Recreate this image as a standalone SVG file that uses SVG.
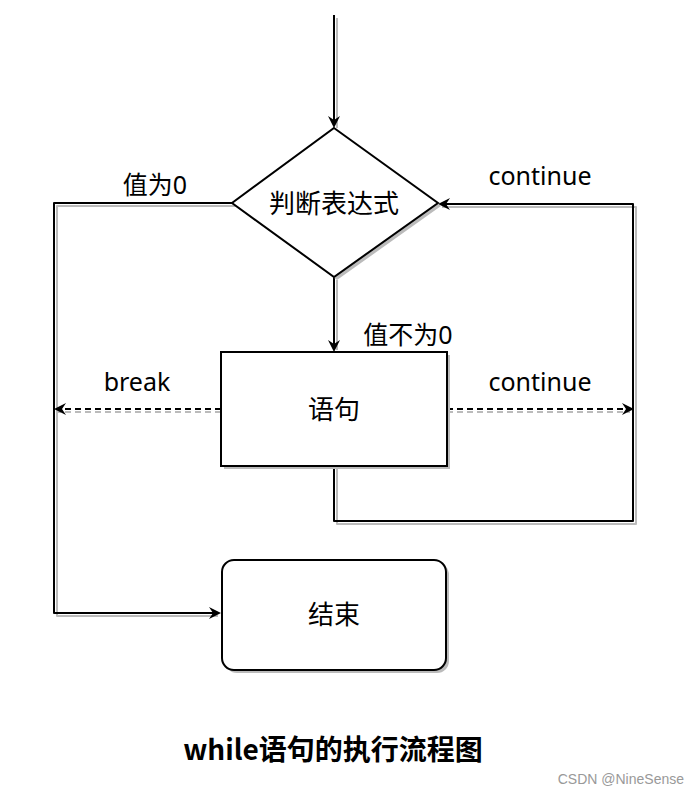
<svg xmlns="http://www.w3.org/2000/svg" width="700" height="794" viewBox="0 0 700 794">
<style>
.ln{fill:none;stroke:#000;stroke-width:2;stroke-linejoin:round}
.sh{fill:none;stroke:#bbb;stroke-width:2;stroke-linejoin:round}
.dash{stroke-dasharray:6 4}
.box{fill:#fff;stroke:#000;stroke-width:2}
.boxsh{fill:#bbb;stroke:none}
.t{font-family:"Noto Sans","Noto Sans CJK SC",sans-serif;font-size:25px;fill:#000}
.c{text-anchor:middle}
</style>
<defs>
<marker id="arr" viewBox="0 0 12 12" refX="10" refY="6" markerWidth="12" markerHeight="12" markerUnits="userSpaceOnUse" orient="auto">
<path d="M0,0 L12,6 L0,12 L4,6 Z" fill="#000"/>
</marker>
</defs>
<g id="connectors">
<path class="sh" d="M337,18 L337,128"/>
<path class="sh" d="M235,206 L57,206 L57,616 L218,616"/>
<path class="sh" d="M337,280 L337,350"/>
<path class="sh dash" d="M221,412 L58,412"/>
<path class="sh dash" d="M447,412 L630,412"/>
<path class="sh" d="M337,469 L337,524 L636,524 L636,207 L442,207"/>
<path class="ln" d="M334,15 L334,126" marker-end="url(#arr)"/>
<path class="ln" d="M232,203 L54,203 L54,613 L219,613" marker-end="url(#arr)"/>
<path class="ln" d="M334,277 L334,350" marker-end="url(#arr)"/>
<path class="ln dash" d="M221,409 L56,409" marker-end="url(#arr)"/>
<path class="ln dash" d="M447,409 L632,409" marker-end="url(#arr)"/>
<path class="ln" d="M334,466 L334,521 L633,521 L633,204 L440,204" marker-end="url(#arr)"/>
<text class="t c" x="155" y="194">值为0</text>
<text class="t c" x="408" y="344">值不为0</text>
<text class="t c" x="137" y="391">break</text>
<text class="t c" x="540" y="185">continue</text>
<text class="t c" x="540" y="391">continue</text>
</g>
<g id="cond">
<path class="boxsh" d="M337,131 L441,206 L337,280 L235,206 Z"/>
<path class="box" d="M334,128 L438,203 L334,277 L232,203 Z"/>
<text class="t c" x="334" y="213" style="font-size:26px">判断表达式</text>
</g>
<g id="stmt">
<rect class="boxsh" x="224" y="355" width="226" height="114"/>
<rect class="box" x="221" y="352" width="226" height="114"/>
<text class="t c" x="334" y="419" style="font-size:26px">语句</text>
</g>
<g id="end">
<rect class="boxsh" x="225" y="563" width="224" height="110" rx="12"/>
<rect class="box" x="222" y="560" width="224" height="110" rx="12"/>
<text class="t c" x="334" y="624" style="font-size:26px">结束</text>
</g>
<text x="333" y="760" text-anchor="middle" font-family="Noto Sans CJK SC, sans-serif" font-weight="bold" font-size="28" fill="#000">while语句的执行流程图</text>
<text x="684" y="784" text-anchor="end" font-family="Liberation Sans, Arial, sans-serif" font-size="14" fill="#999">CSDN @NineSense</text>
</svg>
